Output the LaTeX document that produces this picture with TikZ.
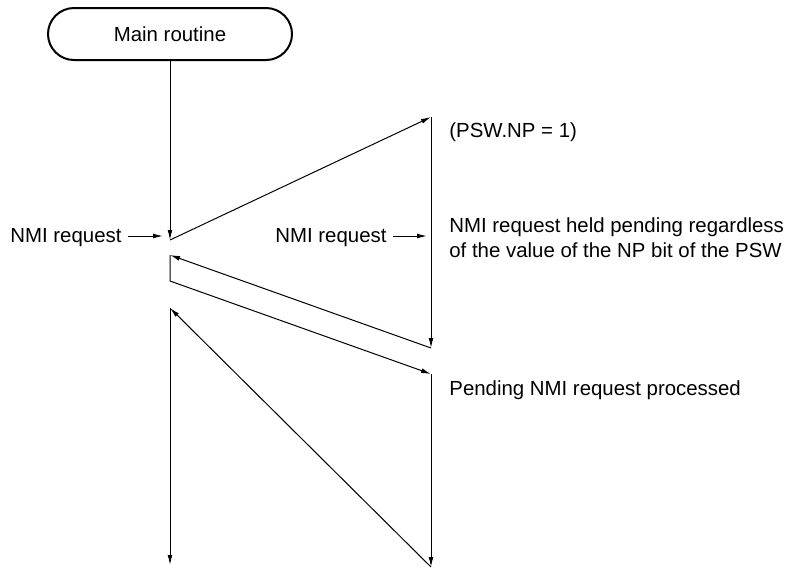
\documentclass[tikz,border=0pt]{standalone}
\usepackage{fontspec}
\setmainfont{Liberation Sans}
\usetikzlibrary{shapes.misc,arrows.meta}
\begin{document}
\begin{tikzpicture}[x=0.5pt,y=-0.5pt,
  flow/.style={line width=0.5pt,-{Latex[length=5pt,width=2.4pt]}},
  plain/.style={line width=0.5pt},
  lbl/.style={font=\fontsize{10.2pt}{12.6pt}\selectfont,inner sep=0pt,anchor=base west},
  termbox/.style={rounded rectangle,draw,line width=1pt,minimum width=122pt,minimum height=26pt,inner sep=0pt,font=\fontsize{10.2pt}{12pt}\selectfont}]
\useasboundingbox (0,0) rectangle (802,570);
\node[termbox] (main) at (170,34) {Main routine};
\coordinate (a2) at (170,240);
\coordinate (b1) at (431,117);
\coordinate (b2) at (431,348);
\coordinate (a3) at (170,255);
\coordinate (a4) at (170,281);
\coordinate (c1) at (431,374);
\coordinate (c2) at (431,567);
\coordinate (a5) at (170,308);
\coordinate (a6) at (170,565);
\coordinate (t1) at (163,236);
\coordinate (t2) at (427,236);
\draw[flow] (main.south) -- (a2);
\draw[flow] (a2) -- (b1);
\draw[flow] (b1) -- (b2);
\draw[flow] (b2) -- (a3);
\draw[flow] (a3) -- (a4) -- (c1);
\draw[flow] (c1) -- (c2);
\draw[flow] (c2) -- (a5);
\draw[flow] (a5) -- (a6);
\node[lbl] (nmi1) at (10,242) {NMI request};
\node[lbl] (nmi2) at (275,242) {NMI request};
\draw[flow] ([xshift=3pt]nmi1.east |- t1) -- (t1);
\draw[flow] ([xshift=3pt]nmi2.east |- t2) -- (t2);
\node[lbl] (psw) at (449,137) {(PSW.NP = 1)};
\node[lbl] (held1) at (449,232) {NMI request held pending regardless};
\node[lbl] (held2) at (449,257) {of the value of the NP bit of the PSW};
\node[lbl] (proc) at (449,395) {Pending NMI request processed};
\end{tikzpicture}
\end{document}
